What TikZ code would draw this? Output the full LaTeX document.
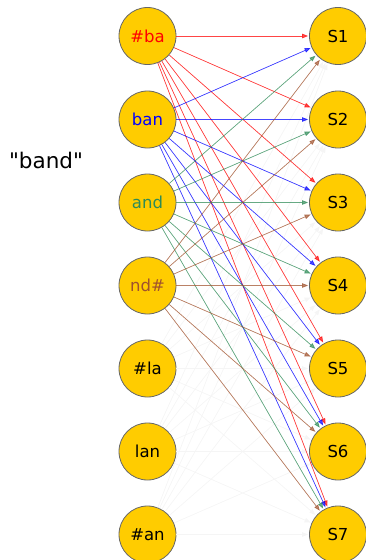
\documentclass[tikz,border=0pt]{standalone}
\usepackage{fontspec}
\setmainfont{DejaVu Sans}[Ligatures=TeXOff]
\usetikzlibrary{arrows.meta}
\definecolor{gold}{HTML}{FFCC00}
\definecolor{cred}{HTML}{FF0000}
\definecolor{cblue}{HTML}{0000FF}
\definecolor{cgreen}{HTML}{2E8B57}
\definecolor{cbrown}{HTML}{A0522D}
\tikzset{
  tok/.style={circle, fill=gold, draw=black!60, line width=0.8pt, minimum size=57pt, inner sep=0pt, font=\fontsize{16.5}{19}\selectfont},
  edge/.style={line width=0.7pt, opacity=0.7, -{Triangle[length=6pt,width=4.5pt]}, shorten >=1pt},
  faint/.style={line width=0.7pt, draw=black!4, -{Triangle[length=6pt,width=4.5pt]}, shorten >=1pt}
}
\begin{document}
\begin{tikzpicture}[x=1pt,y=-1pt]
\useasboundingbox (0,0) rectangle (365,560);
\node[tok] (L1) at (147.5,36) {\textcolor{cred}{\#ba}};
\node[tok] (L2) at (147.5,119.5) {\textcolor{cblue}{ban}};
\node[tok] (L3) at (147.5,202.5) {\textcolor{cgreen}{and}};
\node[tok] (L4) at (147.5,285.5) {\textcolor{cbrown}{nd\#}};
\node[tok] (L5) at (147.5,368.5) {\#la};
\node[tok] (L6) at (147.5,451.5) {lan};
\node[tok] (L7) at (147.5,534.5) {\#an};
\foreach \i/\y in {1/36,2/119.5,3/202.5,4/285.5,5/368.5,6/451.5,7/534.5}
  \node[tok] (S\i) at (338,\y) {S\i};
\node[font=\fontsize{21.5}{24}\selectfont] (word) at (46,160) {"band"};
\foreach \l in {5,6,7}
  \foreach \s in {1,...,7}
    \draw[faint] (L\l) -- (S\s);
\foreach \l/\c in {1/cred,2/cblue,3/cgreen,4/cbrown}
  \foreach \s in {1,...,7}
    \draw[edge, draw=\c, fill=\c] (L\l) -- (S\s);
\end{tikzpicture}
\end{document}
